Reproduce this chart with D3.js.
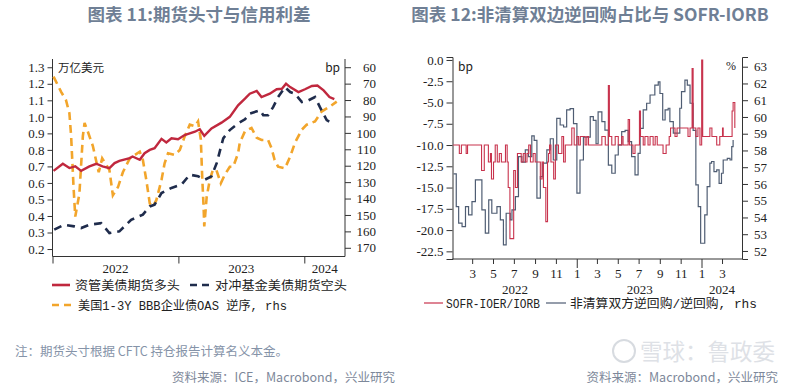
<!DOCTYPE html>
<html><head><meta charset="utf-8">
<script src="https://cdn.jsdelivr.net/npm/d3@7"></script>
<style>
html,body{margin:0;padding:0;background:#fff;}
svg{display:block;}
</style></head>
<body>
<svg id="c" width="800" height="392"></svg>
<script>
// ---------------- DATA ----------------
// Chart 11 (weekly)
const assetMgrLong = [["2022-01-04",0.673],["2022-01-31",0.716],["2022-02-19",0.69],["2022-03-08",0.70],["2022-03-25",0.673],["2022-04-18",0.70],["2022-05-08",0.716],["2022-05-26",0.70],["2022-06-15",0.69],["2022-06-30",0.72],["2022-07-14",0.734],["2022-08-13",0.75],["2022-08-21",0.76],["2022-09-11",0.74],["2022-09-25",0.78],["2022-10-10",0.80],["2022-10-24",0.81],["2022-11-13",0.867],["2022-11-27",0.845],["2022-12-12",0.87],["2022-12-31",0.865],["2023-01-19",0.89],["2023-02-18",0.91],["2023-03-04",0.925],["2023-03-17",0.885],["2023-04-07",0.93],["2023-05-06",0.965],["2023-05-30",1.0],["2023-06-23",1.07],["2023-07-13",1.11],["2023-07-27",1.14],["2023-08-16",1.157],["2023-08-30",1.12],["2023-09-23",1.14],["2023-10-13",1.167],["2023-10-28",1.17],["2023-11-09",1.2],["2023-11-21",1.18],["2023-12-15",1.15],["2024-01-03",1.167],["2024-01-23",1.187],["2024-02-08",1.19],["2024-02-26",1.16],["2024-03-14",1.12],["2024-03-28",1.107]];
const hedgeFundShort = [["2022-01-06",0.317],["2022-02-04",0.347],["2022-03-05",0.337],["2022-03-25",0.327],["2022-04-18",0.347],["2022-05-22",0.357],["2022-06-15",0.297],["2022-07-14",0.307],["2022-08-17",0.377],["2022-09-20",0.408],["2022-10-10",0.458],["2022-10-24",0.468],["2022-11-13",0.539],["2022-12-12",0.57],["2023-01-10",0.59],["2023-02-03",0.65],["2023-02-27",0.64],["2023-03-19",0.62],["2023-04-07",0.64],["2023-04-22",0.72],["2023-05-11",0.87],["2023-05-30",0.92],["2023-06-23",0.96],["2023-07-13",0.985],["2023-07-27",1.02],["2023-08-26",1.04],["2023-09-04",1.01],["2023-09-18",1.01],["2023-10-03",1.06],["2023-10-17",1.12],["2023-11-06",1.18],["2023-11-21",1.15],["2023-12-05",1.14],["2023-12-25",1.09],["2024-01-13",1.10],["2024-02-01",1.12],["2024-02-15",1.06],["2024-03-06",0.98],["2024-03-26",0.957]];
const bbbOAS = [["2022-01-04",65.7],["2022-01-26",75],["2022-02-09",80],["2022-02-19",88],["2022-02-24",102],["2022-03-03",133],["2022-03-08",151],["2022-03-20",137],["2022-03-30",102],["2022-04-04",94],["2022-04-13",99],["2022-04-28",108],["2022-05-15",124],["2022-05-25",115.5],["2022-06-06",119.6],["2022-06-15",122.6],["2022-06-25",138],["2022-07-10",133],["2022-07-24",124],["2022-08-13",115.5],["2022-08-27",113.5],["2022-09-11",111.5],["2022-09-20",116.5],["2022-09-30",128.7],["2022-10-10",143],["2022-10-19",145],["2022-10-29",141],["2022-11-13",128.7],["2022-11-22",118.5],["2022-12-02",112.4],["2022-12-21",113.5],["2023-01-05",110.4],["2023-01-19",102.3],["2023-02-03",95],["2023-02-18",96],["2023-02-27",93],["2023-03-07",104],["2023-03-11",126.7],["2023-03-15",145],["2023-03-17",157],["2023-03-24",139],["2023-04-02",128.7],["2023-04-11",122.6],["2023-04-21",122.6],["2023-05-04",130.7],["2023-05-15",125.7],["2023-05-30",120.6],["2023-06-09",120.6],["2023-06-23",112.4],["2023-06-28",106],["2023-07-13",99],["2023-08-01",97],["2023-08-16",103],["2023-08-30",104.3],["2023-09-18",104.3],["2023-09-28",109.4],["2023-10-07",116.5],["2023-10-17",120.6],["2023-11-06",121.6],["2023-11-21",114.5],["2023-12-05",106],["2023-12-25",98],["2024-01-08",95],["2024-02-01",93],["2024-02-20",87],["2024-03-15",84],["2024-04-04",81]];
const leftTicks11 = [0.2,0.3,0.4,0.5,0.6,0.7,0.8,0.9,1.0,1.1,1.2,1.3];
const rightTicks11 = [60,70,80,90,100,110,120,130,140,150,160,170];
const years11 = ["2022","2023","2024"];

// Chart 12 (daily, stepped)
const sofrIorb = [["2022-01-03",-10],["2022-01-21",-11],["2022-01-27",-10],["2022-02-10",-11],["2022-02-14",-10],["2022-03-27",-13],["2022-04-04",-10],["2022-04-16",-12],["2022-04-22",-11],["2022-04-25",-14],["2022-05-01",-12],["2022-05-06",-10],["2022-05-12",-12],["2022-05-18",-11],["2022-05-24",-12],["2022-06-05",-10],["2022-06-10",-12],["2022-06-13",-15],["2022-06-18",-21],["2022-06-25",-21],["2022-06-29",-13],["2022-07-04",-15],["2022-07-10",-11],["2022-07-21",-12],["2022-07-27",-11],["2022-08-02",-12],["2022-08-07",-11],["2022-08-12",-10],["2022-08-17",-12],["2022-08-25",-11],["2022-08-31",-12],["2022-09-15",-14],["2022-09-20",-12],["2022-09-24",-15],["2022-10-01",-19],["2022-10-06",-12],["2022-10-09",-11],["2022-10-12",-10],["2022-10-16",-12],["2022-10-24",-14],["2022-10-29",-10],["2022-11-07",-11],["2022-11-17",-9],["2022-11-22",-12],["2022-11-27",-10],["2022-12-16",-8],["2022-12-23",-10],["2022-12-31",-9],["2023-01-05",-10],["2023-01-10",-9],["2023-01-24",-10],["2023-01-29",-9],["2023-02-03",-10],["2023-03-14",-9],["2023-03-24",-10],["2023-04-02",-3],["2023-04-05",-9],["2023-04-12",-10],["2023-04-22",-9],["2023-05-01",-10],["2023-05-11",-9],["2023-05-15",-10],["2023-05-30",-7],["2023-06-03",-10],["2023-06-13",-11],["2023-06-19",-10],["2023-07-02",-6],["2023-07-05",-9],["2023-07-13",-10],["2023-07-18",-9],["2023-07-27",-10],["2023-08-02",-9],["2023-08-11",-10],["2023-08-17",-9],["2023-08-23",-10],["2023-09-09",-11],["2023-09-18",-10],["2023-09-27",-9],["2023-10-01",-8],["2023-10-14",-9],["2023-10-20",-8],["2023-11-21",-9],["2023-11-27",-8],["2023-12-03",-1],["2023-12-06",-8],["2023-12-14",-9],["2023-12-20",-8],["2023-12-26",-10],["2023-12-31",0],["2024-01-03",-9],["2024-01-24",-8],["2024-01-30",-9],["2024-02-13",-10],["2024-02-22",-9],["2024-03-01",-8],["2024-03-03",-9],["2024-03-29",-6],["2024-04-01",-5],["2024-04-06",-8]];
const nonClearedShare = [["2022-01-04",56.6],["2022-01-12",54.65],["2022-01-19",53.66],["2022-01-29",53.45],["2022-02-08",54.65],["2022-02-17",54.15],["2022-02-27",54.95],["2022-03-09",56.24],["2022-03-18",56.24],["2022-03-28",54.45],["2022-04-07",53.06],["2022-04-17",55.05],["2022-04-26",54.25],["2022-05-11",54.65],["2022-05-21",53.85],["2022-05-30",52.36],["2022-06-07",54.25],["2022-06-19",53.85],["2022-06-24",54.45],["2022-07-04",55.24],["2022-07-13",57.63],["2022-07-23",57.3],["2022-08-02",58.03],["2022-08-11",57.63],["2022-08-21",58.87],["2022-08-28",58.6],["2022-09-05",55.15],["2022-09-15",56.44],["2022-09-22",57.24],["2022-10-04",58.03],["2022-10-14",58.7],["2022-10-23",57.43],["2022-11-02",59.92],["2022-11-12",59.52],["2022-11-22",59.4],["2022-12-01",60.42],["2022-12-11",60.5],["2022-12-21",59.6],["2022-12-31",55.45],["2023-01-09",57.43],["2023-01-19",58.8],["2023-01-29",58.8],["2023-02-08",60.02],["2023-02-17",59.8],["2023-02-25",58.4],["2023-03-03",60.3],["2023-03-14",59.72],["2023-03-23",59.22],["2023-04-02",57.13],["2023-04-12",56.64],["2023-04-22",57.73],["2023-05-01",58.33],["2023-05-11",59.12],["2023-05-21",59.2],["2023-05-30",58.53],["2023-06-09",57.63],["2023-06-19",56.54],["2023-06-28",57.83],["2023-07-04",59.32],["2023-07-13",60.42],["2023-07-23",60.82],["2023-08-02",61.31],["2023-08-16",61.9],["2023-08-26",62.1],["2023-08-31",61.4],["2023-09-08",59.82],["2023-09-15",60.42],["2023-09-24",60.52],["2023-09-29",59.72],["2023-10-09",59.03],["2023-10-19",59.03],["2023-10-28",60.52],["2023-11-02",61.51],["2023-11-12",62.2],["2023-11-19",61.9],["2023-11-27",60.82],["2023-12-06",59.2],["2023-12-14",55.94],["2023-12-21",54.65],["2023-12-28",52.46],["2024-01-04",52.46],["2024-01-09",54.15],["2024-01-16",55.84],["2024-01-24",57.24],["2024-01-29",57.34],["2024-02-05",56.74],["2024-02-13",56.84],["2024-02-20",56.04],["2024-02-27",56.64],["2024-03-03",57.43],["2024-03-15",57.53],["2024-03-23",57.43],["2024-03-28",58.23],["2024-04-01",58.63]];
const leftTicks12 = [0,-2.5,-5,-7.5,-10,-12.5,-15,-17.5,-20,-22.5];
const rightTicks12 = [52,53,54,55,56,57,58,59,60,61,62,63];
const monthLabels12 = ["3","5","7","9","11","1","3","5","7","9","11","1","3"];
const years12 = ["2022","2023","2024"];

// ---------------- DRAW ----------------
const parse = d3.timeParse("%Y-%m-%d");
const svg = d3.select("#c");
const TITLE = "#6f7f95", AX = "#333";
const SERIF = "'Liberation Serif','Times New Roman',serif";
const CJK = "'Noto Sans CJK SC','Noto Sans',sans-serif";
const MONO = "'Liberation Mono','Noto Sans CJK SC',monospace";

function styleAxis(g){
  g.select(".domain").attr("stroke",AX).attr("stroke-width",1);
  g.selectAll(".tick line").attr("stroke",AX);
  g.selectAll("text").attr("font-family",SERIF).attr("font-size",13).attr("fill","#222");
}

// ===== Chart 11 =====
(function(){
  const x = d3.scaleTime().domain([new Date(2022,0,1), new Date(2024,3,28)]).range([52.5,345]);
  const yL = d3.scaleLinear().domain([0.15,1.35]).range([257.3,59]);
  const yR = d3.scaleLinear().domain([55,175]).range([59,256]);
  const bottomY = 256.5;

  svg.append("text").attr("x",199).attr("y",21).attr("text-anchor","middle")
    .attr("font-family",CJK).attr("font-weight","bold").attr("font-size",17.5).attr("fill",TITLE)
    .text("图表 11:期货头寸与信用利差");

  const gl = svg.append("g").attr("transform","translate(52.5,0)")
    .call(d3.axisLeft(yL).tickValues(leftTicks11).tickSize(5).tickPadding(3).tickFormat(d3.format(".1f")));
  styleAxis(gl);
  gl.select(".domain").attr("d",`M-0,${yL.range()[1]}V${bottomY}`);

  const gr = svg.append("g").attr("transform","translate(345,0)")
    .call(d3.axisRight(yR).tickValues(rightTicks11).tickSize(6).tickPadding(4));
  styleAxis(gr);
  gr.select(".domain").attr("d",`M0,${yR.range()[0]}V${bottomY}`);
  gr.selectAll(".tick text").attr("text-anchor","end").attr("x",31);

  const yearDates = years11.map(y=>new Date(+y,0,1));
  const gb = svg.append("g").attr("transform",`translate(0,${bottomY})`)
    .call(d3.axisBottom(x).tickValues(yearDates).tickSize(7).tickFormat(""));
  styleAxis(gb);
  gb.select(".domain").attr("d",`M52.5,0H345`);
  const xEnd = x.domain()[1];
  years11.forEach((y,i)=>{
    const a = new Date(+y,0,1), b = i<years11.length-1 ? new Date(+y+1,0,1) : xEnd;
    svg.append("text").attr("x",(x(a)+x(b))/2).attr("y",bottomY+16).attr("text-anchor","middle")
      .attr("font-family",SERIF).attr("font-size",13).attr("fill","#222").text(y);
  });

  svg.append("text").attr("x",58).attr("y",72).attr("font-family",CJK).attr("font-size",11.5).attr("fill","#222").text("万亿美元");
  svg.append("text").attr("x",340).attr("y",72).attr("text-anchor","end").attr("font-family",CJK).attr("font-size",12).attr("fill","#222").text("bp");

  const toPts = arr => arr.map(d=>[parse(d[0]),d[1]]);
  const lineL = d3.line().x(d=>x(d[0])).y(d=>yL(d[1])).curve(d3.curveLinear);
  const lineR = d3.line().x(d=>x(d[0])).y(d=>yR(d[1])).curve(d3.curveLinear);

  svg.append("path").attr("d",lineR(toPts(bbbOAS))).attr("fill","none").attr("stroke","#f2a52b").attr("stroke-width",2.6).attr("stroke-dasharray","8,5");
  svg.append("path").attr("d",lineL(toPts(hedgeFundShort))).attr("fill","none").attr("stroke","#1f2c4c").attr("stroke-width",2.6).attr("stroke-dasharray","8,6");
  svg.append("path").attr("d",lineL(toPts(assetMgrLong))).attr("fill","none").attr("stroke","#c0283e").attr("stroke-width",2.4);

  // legend
  const lg = svg.append("g");
  lg.append("line").attr("x1",52).attr("x2",70).attr("y1",285).attr("y2",285).attr("stroke","#c0283e").attr("stroke-width",2.6);
  lg.append("text").attr("x",75).attr("y",290).attr("font-family",CJK).attr("font-size",12).attr("fill","#222")
    .attr("textLength",105).attr("lengthAdjust","spacingAndGlyphs").text("资管美债期货多头");
  lg.append("line").attr("x1",190).attr("x2",211).attr("y1",285).attr("y2",285).attr("stroke","#1f2c4c").attr("stroke-width",2.6).attr("stroke-dasharray","7,5");
  lg.append("text").attr("x",215).attr("y",290).attr("font-family",CJK).attr("font-size",12).attr("fill","#222")
    .attr("textLength",132).attr("lengthAdjust","spacingAndGlyphs").text("对冲基金美债期货空头");
  lg.append("line").attr("x1",52).attr("x2",73).attr("y1",305).attr("y2",305).attr("stroke","#f2a52b").attr("stroke-width",2.6).attr("stroke-dasharray","7,5");
  lg.append("text").attr("x",78).attr("y",309.5).attr("font-family",MONO).attr("font-size",12.5).attr("fill","#222")
    .attr("textLength",209).attr("lengthAdjust","spacingAndGlyphs").text("美国1-3Y BBB企业债OAS 逆序, rhs");

  svg.append("text").attr("x",15).attr("y",356).attr("font-family",CJK).attr("font-size",12.5).attr("fill","#8593a8")
    .text("注：期货头寸根据 CFTC 持仓报告计算名义本金。");
  svg.append("text").attr("x",395).attr("y",382).attr("text-anchor","end").attr("font-family",CJK).attr("font-size",12.5).attr("fill","#7d889a")
    .text("资料来源：ICE，Macrobond，兴业研究");
})();

// ===== Chart 12 =====
(function(){
  const x = d3.scaleTime().domain([new Date(2022,0,1), new Date(2024,3,27)]).range([452.5,742]);
  const yL = d3.scaleLinear().domain([-23.4,0.35]).range([259,57]);
  const yR = d3.scaleLinear().domain([51.52,63.58]).range([259,57]);
  const bottomY = 259;

  svg.append("text").attr("x",590).attr("y",21).attr("text-anchor","middle")
    .attr("font-family",CJK).attr("font-weight","bold").attr("font-size",17.5).attr("fill",TITLE)
    .text("图表 12:非清算双边逆回购占比与 SOFR-IORB");

  const gl = svg.append("g").attr("transform","translate(452.5,0)")
    .call(d3.axisLeft(yL).tickValues(leftTicks12).tickSize(6).tickPadding(3).tickFormat(d3.format(".1f")));
  styleAxis(gl);
  gl.selectAll(".tick text").text(d=>d3.format(".1f")(d).replace("−","-"));

  const gr = svg.append("g").attr("transform","translate(742,0)")
    .call(d3.axisRight(yR).tickValues(rightTicks12).tickSize(6).tickPadding(6));
  styleAxis(gr);

  const monthDates = [];
  for (let y=2022;y<=2024;y++) for (let m=0;m<12;m++){ const d=new Date(y,m,1); if(d<=x.domain()[1]) monthDates.push(d); }
  const gb = svg.append("g").attr("transform",`translate(0,${bottomY})`);
  gb.append("path").attr("d","M452.5,0H742").attr("stroke",AX).attr("fill","none");
  monthDates.forEach(d=>{
    const m = d.getMonth();
    if (m===0 && d.getFullYear()>2022){
      gb.append("line").attr("x1",x(d)).attr("x2",x(d)).attr("y1",0).attr("y2",9).attr("stroke",AX);
    } else if (m%2===0 && m>0){
      gb.append("line").attr("x1",x(d)).attr("x2",x(d)).attr("y1",0).attr("y2",5).attr("stroke",AX);
    }
  });
  const labelDates = monthDates.filter(d=>d.getMonth()%2===0 && !(d.getMonth()===0 && d.getFullYear()===2022));
  labelDates.forEach((d,i)=>{
    svg.append("text").attr("x",x(d)).attr("y",bottomY+19).attr("text-anchor","middle")
      .attr("font-family",SERIF).attr("font-size",13).attr("fill","#222").text(monthLabels12[i]);
  });
  years12.forEach((y,i)=>{
    const a = new Date(+y,0,1), b = i<years12.length-1 ? new Date(+y+1,0,1) : x.domain()[1];
    svg.append("text").attr("x",(x(a)+x(b))/2).attr("y",bottomY+35).attr("text-anchor","middle")
      .attr("font-family",SERIF).attr("font-size",13).attr("fill","#222").text(y);
  });

  svg.append("text").attr("x",458).attr("y",71).attr("font-family",CJK).attr("font-size",12).attr("fill","#222").text("bp");
  svg.append("text").attr("x",736).attr("y",70).attr("text-anchor","end").attr("font-family",SERIF).attr("font-size",12).attr("fill","#222").text("%");

  const toPts = arr => arr.map(d=>[parse(d[0]),d[1]]);
  const lineL = d3.line().x(d=>x(d[0])).y(d=>yL(d[1])).curve(d3.curveStepAfter);
  const lineR = d3.line().x(d=>x(d[0])).y(d=>yR(d[1])).curve(d3.curveStepAfter);
  svg.append("path").attr("d",lineR(toPts(nonClearedShare))).attr("fill","none").attr("stroke","#4f5d73").attr("stroke-width",1.2);
  svg.append("path").attr("d",lineL(toPts(sofrIorb))).attr("fill","none").attr("stroke","#c8334d").attr("stroke-width",1.1);

  const lg = svg.append("g");
  lg.append("line").attr("x1",424).attr("x2",443).attr("y1",303).attr("y2",303).attr("stroke","#c8334d").attr("stroke-width",1.2);
  lg.append("text").attr("x",446).attr("y",308).attr("font-family",MONO).attr("font-size",12.5).attr("fill","#222")
    .attr("textLength",94).attr("lengthAdjust","spacingAndGlyphs").text("SOFR-IOER/IORB");
  lg.append("line").attr("x1",546).attr("x2",566).attr("y1",303).attr("y2",303).attr("stroke","#4f5d73").attr("stroke-width",1.2);
  lg.append("text").attr("x",570).attr("y",308).attr("font-family",MONO).attr("font-size",12.5).attr("fill","#222")
    .attr("textLength",187).attr("lengthAdjust","spacingAndGlyphs").text("非清算双方逆回购/逆回购, rhs");

  svg.append("text").attr("x",778).attr("y",382).attr("text-anchor","end").attr("font-family",CJK).attr("font-size",12.5).attr("fill","#7d889a")
    .text("资料来源：Macrobond，兴业研究");

  // watermark
  const wm = svg.append("g").attr("opacity",0.55);
  wm.append("circle").attr("cx",624).attr("cy",351).attr("r",11).attr("fill","none").attr("stroke","#b8bec8").attr("stroke-width",2);
  wm.append("text").attr("x",640).attr("y",360).attr("font-family",CJK).attr("font-size",22.5).attr("fill","#c4c9d2").text("雪球：鲁政委");
})();
</script>
</body></html>
